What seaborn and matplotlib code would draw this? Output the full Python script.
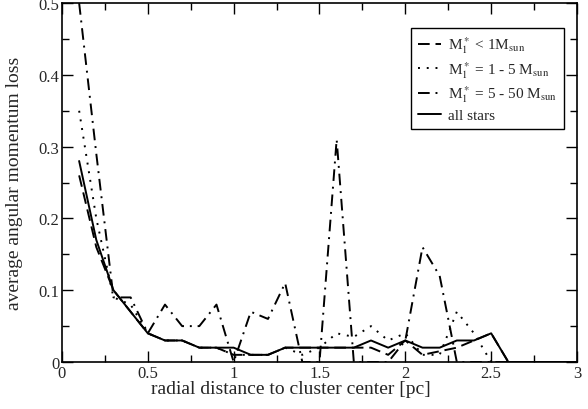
import matplotlib
matplotlib.use("Agg")
import matplotlib.pyplot as plt
import seaborn as sns
import pandas as pd
from matplotlib.ticker import MultipleLocator

# === Data ===
radius = [0.1, 0.2, 0.3, 0.4, 0.5, 0.6, 0.7, 0.8, 0.9, 1.0,
          1.1, 1.2, 1.3, 1.4, 1.5, 1.6, 1.7, 1.8, 1.9, 2.0,
          2.1, 2.2, 2.3, 2.4, 2.5, 2.6, 2.7, 2.8, 2.9, 3.0]

low_mass = [0.26, 0.16, 0.10, 0.07, 0.04, 0.03, 0.03, 0.02, 0.02, 0.01,
            0.01, 0.01, 0.02, 0.02, 0.02, 0.02, 0.02, 0.02, 0.01, 0.03,
            0.01, 0.015, 0.02, 0.03, 0.04, 0.0, 0.0, 0.0, 0.0, 0.0]

mid_mass = [0.35, 0.20, 0.09, 0.08, 0.04, 0.03, 0.03, 0.02, 0.02, 0.01,
            0.01, 0.01, 0.02, 0.01, 0.02, 0.04, 0.035, 0.05, 0.03, 0.04,
            0.01, 0.01, 0.07, 0.04, 0.0, 0.0, 0.0, 0.0, 0.0, 0.0]

high_mass = [0.50, 0.29, 0.09, 0.09, 0.04, 0.08, 0.05, 0.05, 0.08, 0.0,
             0.07, 0.06, 0.11, 0.0, 0.0, 0.31, 0.0, 0.0, 0.0, 0.03,
             0.16, 0.12, 0.0, 0.0, 0.0, 0.0, 0.0, 0.0, 0.0, 0.0]

all_stars = [0.28, 0.17, 0.10, 0.07, 0.04, 0.03, 0.03, 0.02, 0.02, 0.02,
             0.01, 0.01, 0.02, 0.02, 0.02, 0.02, 0.02, 0.03, 0.02, 0.03,
             0.02, 0.02, 0.03, 0.03, 0.04, 0.0, 0.0, 0.0, 0.0, 0.0]

labels = [
    r"M$_1^*$ < 1M$_{\rm sun}$",
    r"M$_1^*$ = 1 - 5 M$_{\rm sun}$",
    r"M$_1^*$ = 5 - 50 M$_{\rm sun}$",
    "all stars",
]
styles = [(0, (6, 3)), (0, (1, 3.5)), (0, (6, 3, 1, 3)), "-"]

xtick_pos = [0, 0.5, 1, 1.5, 2, 2.5, 3]
xtick_lab = ["0", "0.5", "1", "1.5", "2", "2.5", "3"]
ytick_pos = [0, 0.1, 0.2, 0.3, 0.4, 0.5]
ytick_lab = ["0", "0.1", "0.2", "0.3", "0.4", "0.5"]

# === Plot Settings ===
sns.set_style("ticks")
plt.rcParams["font.family"] = ["Liberation Serif", "DejaVu Serif"]
plt.rcParams["mathtext.fontset"] = "stix"

fig = plt.figure(figsize=(5.88, 4.10), dpi=100)
ax = fig.add_axes([0.1054, 0.1146, 0.8759, 0.8754])

series = [low_mass, mid_mass, high_mass, all_stars]
for vals, lab, ls in zip(series, labels, styles):
    df = pd.DataFrame({"r": radius, "loss": vals})
    sns.lineplot(data=df, x="r", y="loss", ax=ax, color="black",
                 linewidth=1.4, linestyle=ls, label=lab)

# === Axes styling ===
ax.set_xticks(xtick_pos, xtick_lab)
ax.set_yticks(ytick_pos, ytick_lab)
ax.xaxis.set_minor_locator(MultipleLocator(0.25))
ax.yaxis.set_minor_locator(MultipleLocator(0.05))
ax.set_xlim(0, 3)
ax.set_ylim(0, 0.5)
ax.tick_params(which="both", direction="in", top=True, right=True,
               labelsize=12, color="black", pad=2)
ax.tick_params(which="major", length=8, width=1)
ax.tick_params(which="minor", length=5, width=1)
for sp in ax.spines.values():
    sp.set_linewidth(1.2)
    sp.set_color("black")

ax.set_xlabel("radial distance to cluster center [pc]", fontsize=14)
ax.set_ylabel("average angular momentum loss", fontsize=14)
ax.xaxis.set_label_coords(0.445, -0.05)
ax.yaxis.set_label_coords(-0.076, 0.5)

leg = ax.legend(loc="upper right", bbox_to_anchor=(0.975, 0.932),
                fontsize=11, frameon=True, fancybox=False,
                handlelength=1.5, handletextpad=0.5, borderpad=0.45,
                labelspacing=0.25, borderaxespad=0)
leg.get_frame().set_edgecolor("black")
leg.get_frame().set_linewidth(1.0)
leg.get_frame().set_alpha(1)

fig.savefig("out.png", dpi=100)
plt.close(fig)
